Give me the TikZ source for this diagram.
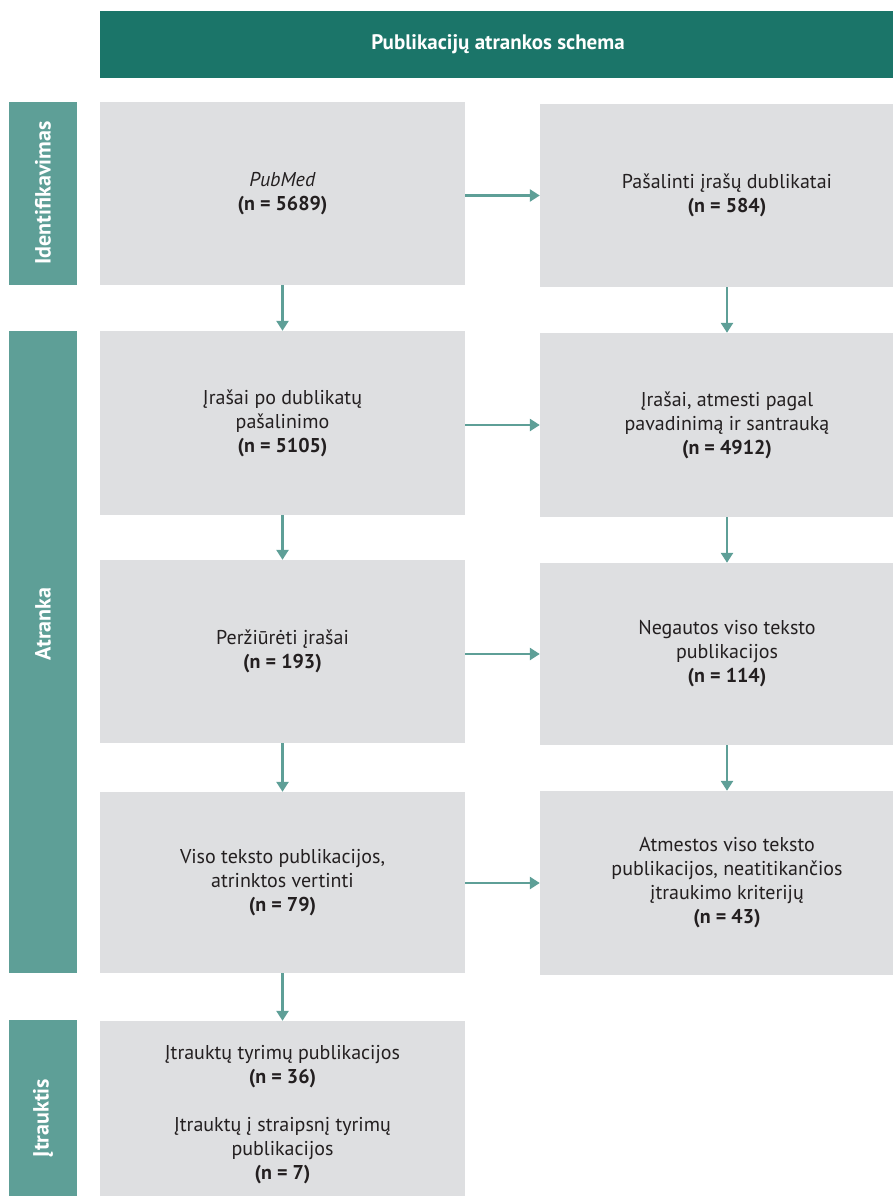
\documentclass[tikz,border=0pt]{standalone}
\usepackage{fontspec}
\setmainfont{PT Sans}
\usetikzlibrary{arrows.meta}
\definecolor{headteal}{HTML}{1B7569}
\definecolor{sideteal}{HTML}{5E9F97}
\definecolor{boxgray}{HTML}{DEDFE1}
\definecolor{textdark}{HTML}{231F20}
\tikzset{
  headbox/.style={fill=headteal, text=white, font=\bfseries\fontsize{21}{24}\selectfont,
    minimum width=796pt, minimum height=67pt, inner sep=0pt},
  stagebar/.style={fill=sideteal, minimum height=68pt, inner sep=0pt, rotate=90},
  stagetext/.style={text=white, font=\bfseries\fontsize{22}{24}\selectfont, rotate=90, inner sep=0pt},
  flowbox/.style={fill=boxgray, text=textdark, font=\fontsize{20}{24}\selectfont,
    align=center, inner sep=0pt},
  flowarrow/.style={->, draw=sideteal, line width=2.5pt}
}
\begin{document}
\begin{tikzpicture}[x=1pt, y=-1pt, >={Triangle[width=12pt,length=10pt]}]
  \useasboundingbox (0,0) rectangle (893,1196);
  % header
  \node[headbox] (head) at (498,44.5) {Publikacijų atrankos schema};
  % stage bars on the left
  \node[stagebar, minimum width=183pt] (idbar) at (43,193.5) {};
  \node[stagebar, minimum width=642pt] (atbar) at (43,652) {};
  \node[stagebar, minimum width=196pt] (inbar) at (43,1118) {};
  \node[stagetext] (idtxt) at (43,193) {Identifikavimas};
  \node[stagetext] (attxt) at (43,624) {Atranka};
  \node[stagetext] (intxt) at (43,1118) {Įtrauktis};
  % left column
  \node[flowbox, minimum width=365pt, minimum height=183pt] (l1) at (282.5,193.5)
    {\textit{PubMed}\\\textbf{(n = 5689)}};
  \node[flowbox, minimum width=365pt, minimum height=184pt] (l2) at (282.5,423)
    {Įrašai po dublikatų\\pašalinimo\\\textbf{(n = 5105)}};
  \node[flowbox, minimum width=365pt, minimum height=183pt] (l3) at (282.5,651.5)
    {Peržiūrėti įrašai\\\textbf{(n = 193)}};
  \node[flowbox, minimum width=365pt, minimum height=181pt] (l4) at (282.5,882.5)
    {Viso teksto publikacijos,\\atrinktos vertinti\\\textbf{(n = 79)}};
  \node[flowbox, minimum width=365pt, minimum height=188pt] (l5) at (282.5,1115)
    {Įtrauktų tyrimų publikacijos\\\textbf{(n = 36)}\\[24pt]Įtrauktų į straipsnį tyrimų\\publikacijos\\\textbf{(n = 7)}};
  % right column
  \node[flowbox, minimum width=374pt, minimum height=183pt] (r1) at (727,195.5)
    {Pašalinti įrašų dublikatai\\\textbf{(n = 584)}};
  \node[flowbox, minimum width=374pt, minimum height=184pt] (r2) at (727,425)
    {Įrašai, atmesti pagal\\pavadinimą ir santrauką\\\textbf{(n = 4912)}};
  \node[flowbox, minimum width=374pt, minimum height=182pt] (r3) at (727,654)
    {Negautos viso teksto\\publikacijos\\\textbf{(n = 114)}};
  \node[flowbox, minimum width=374pt, minimum height=184pt] (r4) at (727,883)
    {Atmestos viso teksto\\publikacijos, neatitikančios\\įtraukimo kriterijų\\\textbf{(n = 43)}};
  % vertical arrows
  \foreach \a/\b in {l1/l2, l2/l3, l3/l4, l4/l5, r1/r2, r2/r3, r3/r4}
    \draw[flowarrow] (\a.south) -- (\b.north);
  % horizontal arrows
  \foreach \a/\b in {l1/r1, l2/r2, l3/r3, l4/r4}
    \draw[flowarrow] (\b.west -| \a.east) -- (\b.west);
\end{tikzpicture}
\end{document}
